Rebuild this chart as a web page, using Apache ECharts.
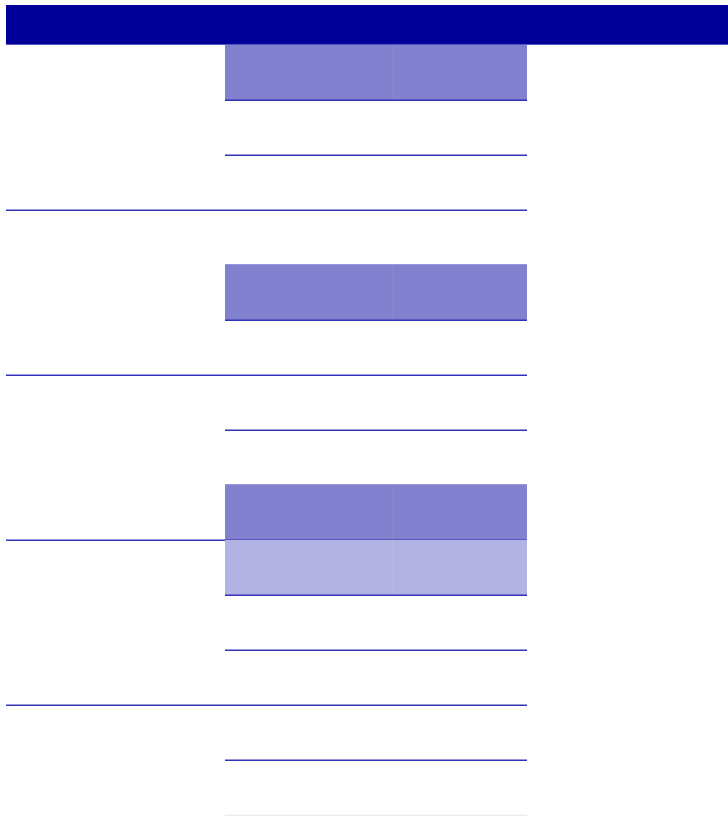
<!DOCTYPE html>
<html><head><meta charset="utf-8">
<script src="https://cdn.jsdelivr.net/npm/echarts@6/dist/echarts.min.js"></script>
<style>html,body{margin:0;padding:0;background:#fff}#c{width:728px;height:816px}</style>
</head><body><div id="c"></div>
<script>
// Table rows (category axis) and the shading level of the middle column per row
const rowNames = ['r1','r2','r3','r4','r5','r6','r7','r8','r9','r10','r11','r12','r13','r14'];
const midShade = [2,0,0,0,2,0,0,0,2,1,0,0,0,0];
const groupSize = 3;

const chart = echarts.init(document.getElementById('c'), null, {renderer:'canvas'});
const shadeColors = ['rgba(0,0,0,0)', '#b3b3e3', '#8181cf'];
const lineColor = '#3333b8';
const X0 = 6, X1 = 225, XM = 392, X2 = 527, XR = 728;

chart.setOption({
  animation:false,
  backgroundColor:'#fff',
  grid:{left:0,right:0,top:45,height:770},
  xAxis:{type:'value',min:0,max:728,show:false},
  yAxis:{type:'category',data:rowNames,inverse:true,show:false,boundaryGap:true},
  graphic:[
    {type:'rect',shape:{x:X0,y:5,width:XR-X0,height:40},style:{fill:'#000099'},z:10},
    {type:'line',shape:{x1:X0,y1:44.5,x2:XR,y2:44.5},style:{stroke:'#5555c4',lineWidth:1},z:11}
  ],
  series:[{
    type:'custom',
    data: midShade.map((s,i)=>[i,s]),
    encode:{y:0},
    renderItem:function(params, api){
      const i = api.value(0);
      const s = api.value(1);
      const c = api.coord([0, rowNames[i]]);
      const h = api.size([0,1])[1];
      const top = Math.round(c[1]-h/2), bot = Math.round(c[1]+h/2);
      const last = i === rowNames.length-1;
      const children = [];
      if (s>0) {
        children.push({type:'rect',shape:{x:X1,y:top,width:X2-X1,height:bot-top},style:{fill:shadeColors[s]}});
        children.push({type:'line',shape:{x1:XM+0.5,y1:top,x2:XM+0.5,y2:bot},style:{stroke:'rgba(255,255,255,0.06)',lineWidth:1}});
      }
      children.push({type:'line',shape:{x1:X1,y1:bot+0.25,x2:X2,y2:bot+0.25},style:{stroke:last?'#e6e6e6':lineColor,lineWidth:last?1:1.5}});
      if ((i+1)%groupSize===0) {
        children.push({type:'line',shape:{x1:X0,y1:bot+0.25,x2:X1,y2:bot+0.25},style:{stroke:lineColor,lineWidth:1.5}});
      }
      return {type:'group',children:children};
    }
  }]
});
</script></body></html>
